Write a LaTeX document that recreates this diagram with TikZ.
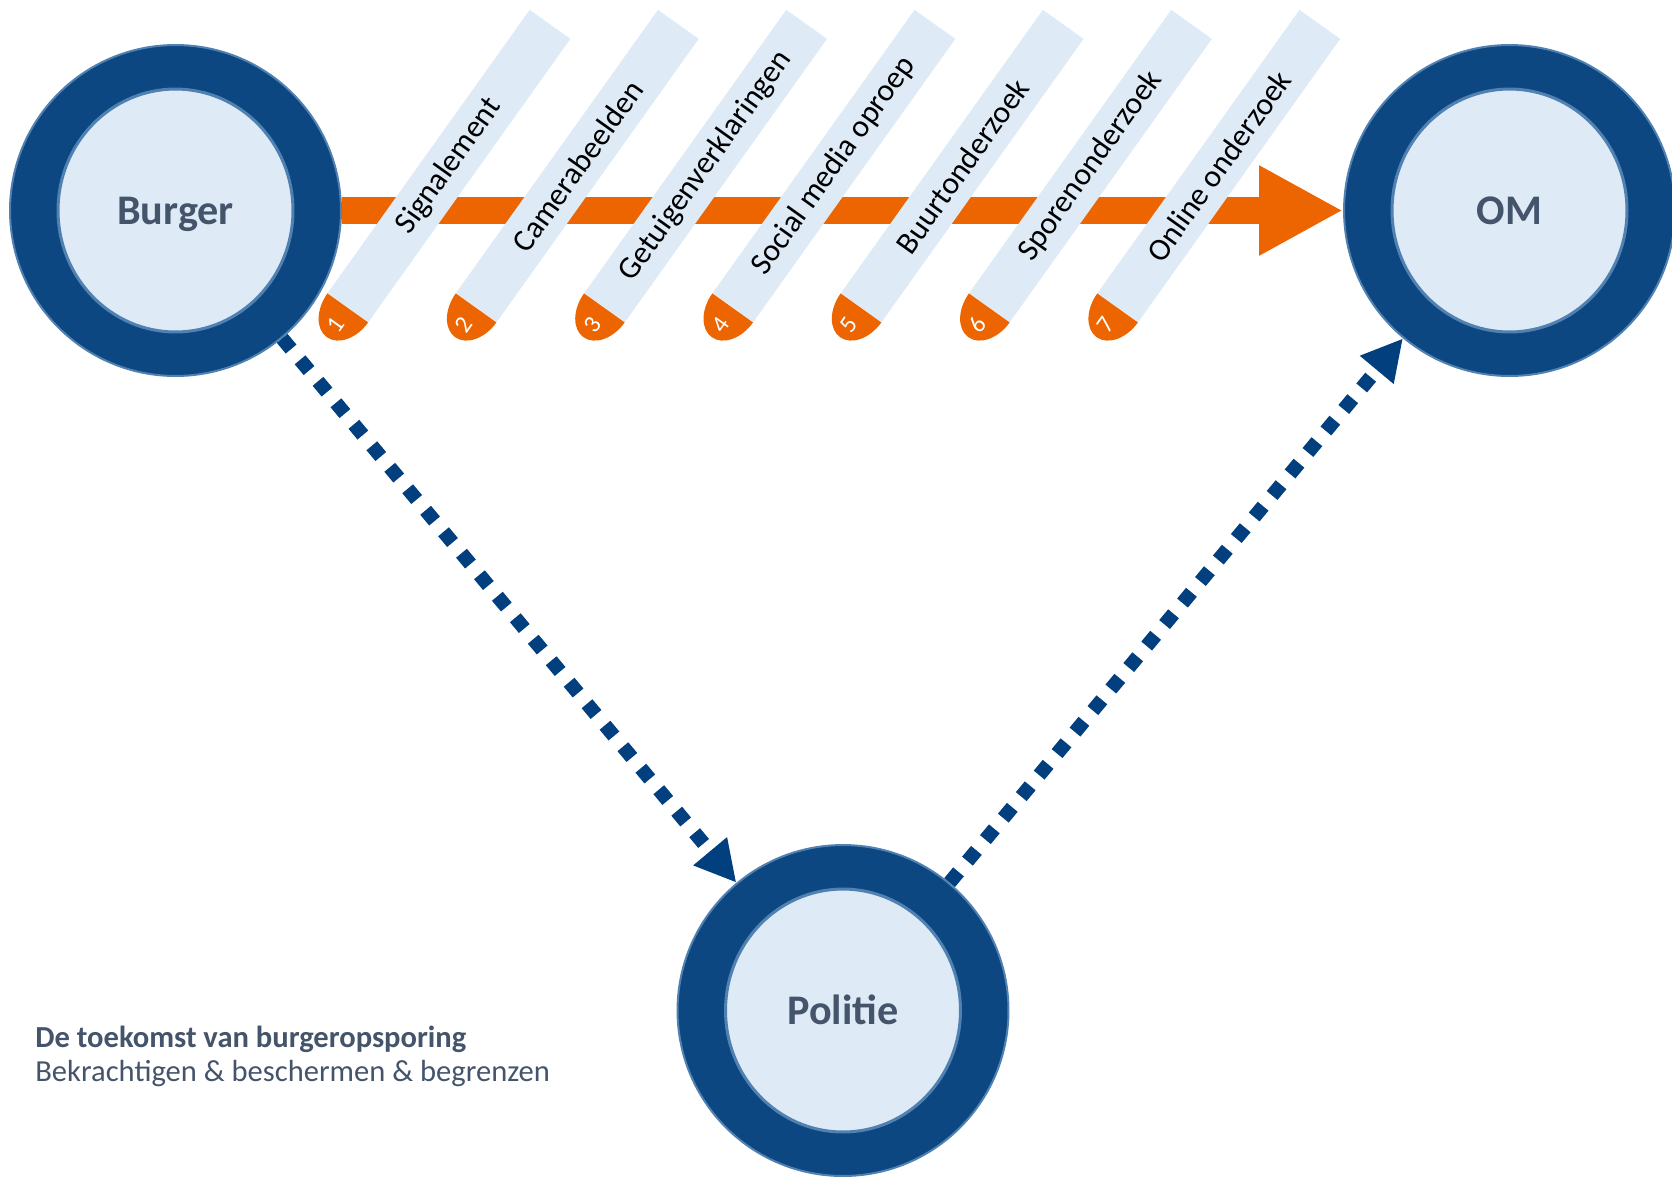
\documentclass[tikz,border=0pt]{standalone}
\usepackage{fontspec}
\setmainfont{Carlito}
\usetikzlibrary{arrows.meta,calc}
\definecolor{ringblue}{HTML}{0D4782}
\definecolor{edgeblue}{HTML}{5081B0}
\definecolor{innerfill}{HTML}{DEEAF6}
\definecolor{tabfill}{HTML}{DEEAF6}
\definecolor{orng}{HTML}{EC6500}
\definecolor{dotblue}{HTML}{023F7E}
\definecolor{slate}{HTML}{44546A}
\pgfdeclarelayer{background}
\pgfsetlayers{background,main}
\tikzset{
  ring/.style={circle, minimum size=6.62cm, inner sep=0pt, fill=ringblue, draw=edgeblue, line width=0.04cm,
    path picture={\fill[innerfill, draw=edgeblue, line width=0.06cm] (path picture bounding box.center) ellipse [x radius=2.35cm, y radius=2.43cm];},
    font=\bfseries\fontsize{24}{28}\selectfont, text=slate, text height=15.4pt, text depth=0pt},
  tabbox/.style={rectangle, rotate=54.5, minimum width=6.96cm, minimum height=1.0cm, inner sep=0pt, fill=tabfill,
    font=\fontsize{17.9}{20}\selectfont, text=black},
  capnum/.style={rotate=54.5, inner sep=0pt, font=\fontsize{14}{16}\selectfont, text=white},
  dotline/.style={dotblue, line width=0.28cm, dash pattern=on 0.28cm off 0.28cm, -{Triangle[length=0.82cm,width=0.82cm]}},
  flowarrow/.style={orng, line width=0.54cm, -{Triangle[length=1.68cm,width=1.68cm]}},
  caption/.style={anchor=base west, inner sep=0pt, text=slate}
}
\begin{document}
\begin{tikzpicture}[x=0.02cm, y=-0.02cm]
\useasboundingbox (0,0) rectangle (1672,1178);
% circle nodes
\node[ring] (burger) at (175.5,210.5) {Burger};
\node[ring] (om) at (1509.5,210.5) {OM};
\node[ring] (politie) at (843,1010.5) {Politie};
\begin{pgfonlayer}{background}
% dotted connectors
\draw[dotline] (burger) -- (politie);
\draw[dotline] (politie) -- (om);
% orange flow arrow
\draw[flowarrow] (burger) -- (om);
% tabs
\foreach \i/\lab in {1/Signalement, 2/Camerabeelden, 3/Getuigenverklaringen, 4/Social media oproep, 5/Buurtonderzoek, 6/Sporenonderzoek, 7/Online onderzoek}{
  \node[tabbox] (tab\i) at ({449+128.3*(\i-1)},166) {\lab};
  \begin{scope}[shift={(tab\i.west)}, rotate=54.5]
    \fill[orng] (0,0.5cm) arc[start angle=90, end angle=270, x radius=0.72cm, y radius=0.5cm] -- cycle;
  \end{scope}
  \node[capnum] (num\i) at ($(tab\i.west)!0.42cm!180:(tab\i.east)$) {\i};
}
\end{pgfonlayer}
% caption
\node[caption, font=\bfseries\fontsize{17.4}{20}\selectfont] (title) at (35,1047) {De toekomst van burgeropsporing};
\node[caption, font=\fontsize{17.4}{20}\selectfont] (subtitle) at (35,1081) {Bekrachtigen \& beschermen \& begrenzen};
\end{tikzpicture}
\end{document}
